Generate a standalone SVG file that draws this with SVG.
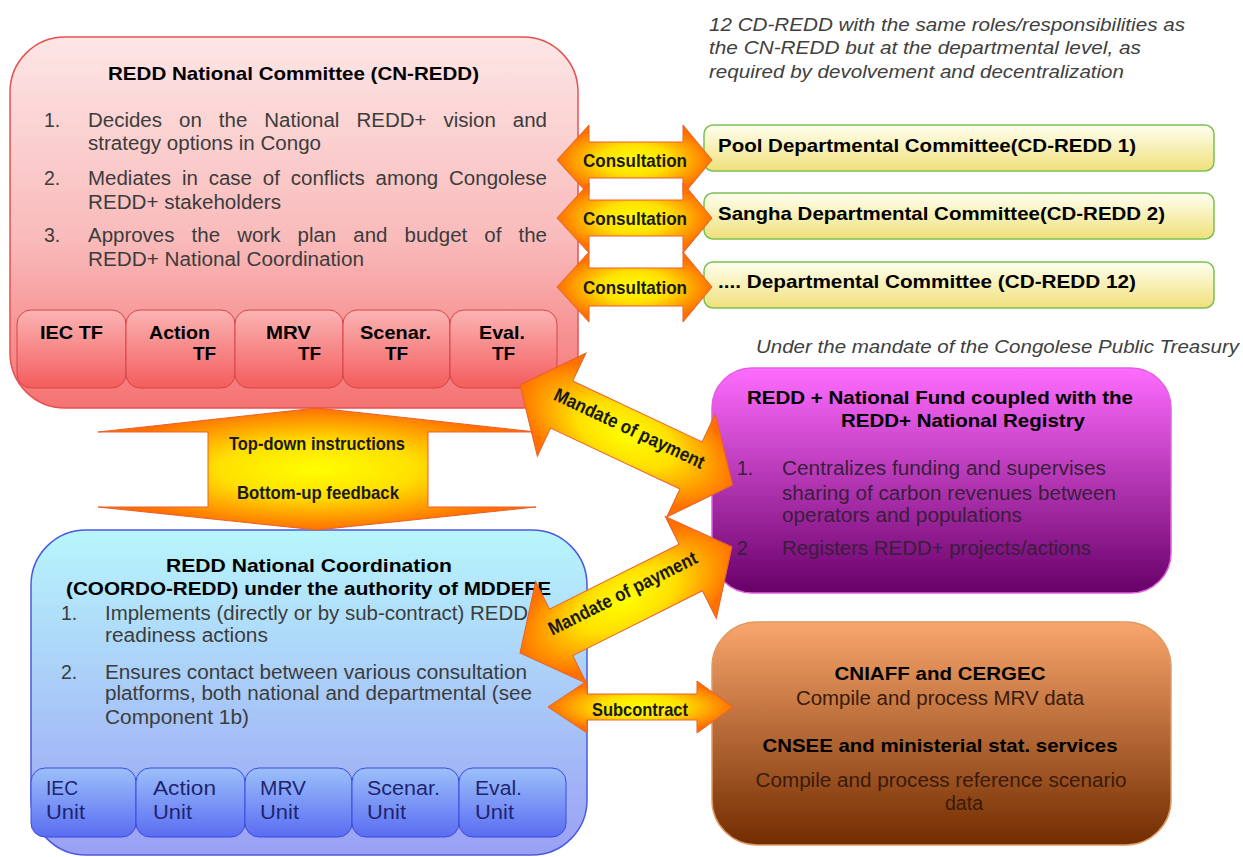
<svg xmlns="http://www.w3.org/2000/svg" width="1243" height="857" viewBox="0 0 1243 857">
<defs>
<linearGradient id="gRed" x1="0" y1="0" x2="0" y2="1"><stop offset="0" stop-color="#fde6e6"/><stop offset="0.55" stop-color="#f9baba"/><stop offset="1" stop-color="#f57272"/></linearGradient>
<linearGradient id="gTF" x1="0" y1="0" x2="0" y2="1"><stop offset="0" stop-color="#fbb4b4"/><stop offset="1" stop-color="#f45c5c"/></linearGradient>
<linearGradient id="gBlue" x1="0" y1="0" x2="0" y2="1"><stop offset="0" stop-color="#b8f6fc"/><stop offset="1" stop-color="#9aa0f4"/></linearGradient>
<linearGradient id="gUnit" x1="0" y1="0" x2="0" y2="1"><stop offset="0" stop-color="#9cc0fa"/><stop offset="1" stop-color="#5a6cf2"/></linearGradient>
<linearGradient id="gDept" x1="0" y1="0" x2="0" y2="1"><stop offset="0" stop-color="#fffff0"/><stop offset="1" stop-color="#efe07a"/></linearGradient>
<linearGradient id="gPurple" x1="0" y1="0" x2="0" y2="1"><stop offset="0" stop-color="#ff6cff"/><stop offset="1" stop-color="#680068"/></linearGradient>
<linearGradient id="gOrange" x1="0" y1="0" x2="0" y2="1"><stop offset="0" stop-color="#f9a66c"/><stop offset="1" stop-color="#722c00"/></linearGradient>
<radialGradient id="gArrow" cx="0.5" cy="0.5" r="0.5"><stop offset="0" stop-color="#ffff00"/><stop offset="0.45" stop-color="#ffe000"/><stop offset="1" stop-color="#ff7000"/></radialGradient>
<style>
text{font-family:"Liberation Sans",Arial,sans-serif;}
.t{font-size:19.5px;fill:#3c3c3c;}
.b{font-size:19px;font-weight:bold;fill:#000;}
.it{font-size:17.5px;font-style:italic;fill:#404040;}
.unit{font-size:20.5px;fill:#1e2470;}
.al{font-family:"Liberation Sans Narrow","Liberation Sans",Arial,sans-serif;font-size:19px;font-weight:bold;fill:#1a1a1a;}
.arrow{fill:url(#gArrow);stroke:#e8602c;stroke-width:1;}
.pt{font-size:19.5px;fill:#3a1e3c;}
.ot{font-size:19.5px;fill:#3a1a0a;}
</style>
</defs>
<rect width="1243" height="857" fill="#ffffff"/>

<g id="cn-redd">
<rect x="10" y="37" width="568" height="371" rx="55" fill="url(#gRed)" stroke="#e85050" stroke-width="1.5"/>
<text class="b" x="108" y="80" textLength="371" lengthAdjust="spacingAndGlyphs">REDD National Committee (CN-REDD)</text>
<text class="t" x="44" y="127">1.</text>
<text class="t" x="88" y="127" word-spacing="10.8" textLength="459" lengthAdjust="spacingAndGlyphs">Decides on the National REDD+ vision and</text>
<text class="t" x="88" y="150" textLength="233" lengthAdjust="spacingAndGlyphs">strategy options in Congo</text>
<text class="t" x="44" y="185">2.</text>
<text class="t" x="88" y="185" word-spacing="4.9" textLength="459" lengthAdjust="spacingAndGlyphs">Mediates in case of conflicts among Congolese</text>
<text class="t" x="88" y="209" textLength="193" lengthAdjust="spacingAndGlyphs">REDD+ stakeholders</text>
<text class="t" x="44" y="242">3.</text>
<text class="t" x="88" y="242" word-spacing="10.9" textLength="459" lengthAdjust="spacingAndGlyphs">Approves the work plan and budget of the</text>
<text class="t" x="88" y="266" textLength="276" lengthAdjust="spacingAndGlyphs">REDD+ National Coordination</text>
<g id="tf-iec"><rect x="17" y="310" width="109" height="78" rx="14" fill="url(#gTF)" stroke="#d84444"/><text class="b" x="40" y="339" textLength="63" lengthAdjust="spacingAndGlyphs">IEC TF</text></g>
<g id="tf-action"><rect x="126" y="310" width="109" height="78" rx="14" fill="url(#gTF)" stroke="#d84444"/><text class="b" x="149" y="339" textLength="61" lengthAdjust="spacingAndGlyphs">Action</text><text class="b" x="193" y="360">TF</text></g>
<g id="tf-mrv"><rect x="235" y="310" width="108" height="78" rx="14" fill="url(#gTF)" stroke="#d84444"/><text class="b" x="266" y="339" textLength="45" lengthAdjust="spacingAndGlyphs">MRV</text><text class="b" x="298" y="360">TF</text></g>
<g id="tf-scenar"><rect x="343" y="310" width="107" height="78" rx="14" fill="url(#gTF)" stroke="#d84444"/><text class="b" x="360" y="339" textLength="71" lengthAdjust="spacingAndGlyphs">Scenar.</text><text class="b" x="385" y="360">TF</text></g>
<g id="tf-eval"><rect x="450" y="310" width="107" height="78" rx="14" fill="url(#gTF)" stroke="#d84444"/><text class="b" x="479" y="339" textLength="46" lengthAdjust="spacingAndGlyphs">Eval.</text><text class="b" x="492" y="360">TF</text></g>
</g>

<g id="cd-note">
<text class="it" x="709" y="31" textLength="476" lengthAdjust="spacingAndGlyphs">12 CD-REDD with the same roles/responsibilities as</text>
<text class="it" x="709" y="54" textLength="432" lengthAdjust="spacingAndGlyphs">the CN-REDD but at the departmental level,  as</text>
<text class="it" x="709" y="78" textLength="415" lengthAdjust="spacingAndGlyphs">required by devolvement and decentralization</text>
</g>

<g id="cd-redd-1">
<rect x="704" y="125" width="510" height="46" rx="9" fill="url(#gDept)" stroke="#7cc050" stroke-width="1.5"/>
<text class="b" x="718" y="152" textLength="418" lengthAdjust="spacingAndGlyphs">Pool Departmental Committee(CD-REDD 1)</text>
</g>
<g id="cd-redd-2">
<rect x="704" y="193" width="510" height="46" rx="9" fill="url(#gDept)" stroke="#7cc050" stroke-width="1.5"/>
<text class="b" x="718" y="220" textLength="447" lengthAdjust="spacingAndGlyphs">Sangha Departmental Committee(CD-REDD 2)</text>
</g>
<g id="cd-redd-12">
<rect x="704" y="262" width="510" height="46" rx="9" fill="url(#gDept)" stroke="#7cc050" stroke-width="1.5"/>
<text class="b" x="718" y="288" textLength="418" lengthAdjust="spacingAndGlyphs">.... Departmental Committee (CD-REDD 12)</text>
</g>

<g id="treasury-note">
<text class="it" x="756" y="353" textLength="483" lengthAdjust="spacingAndGlyphs">Under the mandate of the Congolese Public Treasury</text>
</g>

<g id="national-fund">
<rect x="712" y="368" width="459" height="225" rx="40" fill="url(#gPurple)" stroke="#e060e0" stroke-width="1.5"/>
<text class="b" x="747" y="404" textLength="386" lengthAdjust="spacingAndGlyphs">REDD + National Fund coupled with the</text>
<text class="b" x="841" y="427" textLength="244" lengthAdjust="spacingAndGlyphs">REDD+ National Registry</text>
<text class="pt" x="737" y="475">1.</text>
<text class="pt" x="782" y="475" textLength="324" lengthAdjust="spacingAndGlyphs">Centralizes funding and supervises</text>
<text class="pt" x="782" y="500" textLength="334" lengthAdjust="spacingAndGlyphs">sharing of carbon revenues between</text>
<text class="pt" x="782" y="522" textLength="240" lengthAdjust="spacingAndGlyphs">operators and populations</text>
<text class="pt" x="737" y="555">2</text>
<text class="pt" x="782" y="555" textLength="309" lengthAdjust="spacingAndGlyphs">Registers REDD+ projects/actions</text>
</g>

<g id="coordo-redd">
<rect x="31" y="530" width="556" height="325" rx="55" fill="url(#gBlue)" stroke="#4a5ae0" stroke-width="1.5"/>
<text class="b" x="166" y="572" textLength="286" lengthAdjust="spacingAndGlyphs">REDD National Coordination</text>
<text class="b" x="66" y="595" textLength="485" lengthAdjust="spacingAndGlyphs">(COORDO-REDD) under the authority of MDDEFE</text>
<text class="t" x="61" y="620">1.</text>
<text class="t" x="105" y="620" textLength="423" lengthAdjust="spacingAndGlyphs">Implements (directly or by sub-contract) REDD</text>
<text class="t" x="105" y="642" textLength="163" lengthAdjust="spacingAndGlyphs">readiness actions</text>
<text class="t" x="61" y="679">2.</text>
<text class="t" x="105" y="679" textLength="422" lengthAdjust="spacingAndGlyphs">Ensures contact between various consultation</text>
<text class="t" x="105" y="700" textLength="427" lengthAdjust="spacingAndGlyphs">platforms, both national and departmental (see</text>
<text class="t" x="105" y="724" textLength="144" lengthAdjust="spacingAndGlyphs">Component 1b)</text>
<g id="unit-iec"><rect x="31" y="768" width="105" height="69" rx="14" fill="url(#gUnit)" stroke="#3a4ae0"/><text class="unit" x="46" y="795" textLength="32" lengthAdjust="spacingAndGlyphs">IEC</text><text class="unit" x="46" y="819" textLength="39" lengthAdjust="spacingAndGlyphs">Unit</text></g>
<g id="unit-action"><rect x="136" y="768" width="109" height="69" rx="14" fill="url(#gUnit)" stroke="#3a4ae0"/><text class="unit" x="153" y="795" textLength="63" lengthAdjust="spacingAndGlyphs">Action</text><text class="unit" x="153" y="819" textLength="39" lengthAdjust="spacingAndGlyphs">Unit</text></g>
<g id="unit-mrv"><rect x="245" y="768" width="107" height="69" rx="14" fill="url(#gUnit)" stroke="#3a4ae0"/><text class="unit" x="260" y="795" textLength="46" lengthAdjust="spacingAndGlyphs">MRV</text><text class="unit" x="260" y="819" textLength="39" lengthAdjust="spacingAndGlyphs">Unit</text></g>
<g id="unit-scenar"><rect x="352" y="768" width="107" height="69" rx="14" fill="url(#gUnit)" stroke="#3a4ae0"/><text class="unit" x="367" y="795" textLength="73" lengthAdjust="spacingAndGlyphs">Scenar.</text><text class="unit" x="367" y="819" textLength="39" lengthAdjust="spacingAndGlyphs">Unit</text></g>
<g id="unit-eval"><rect x="459" y="768" width="107" height="69" rx="14" fill="url(#gUnit)" stroke="#3a4ae0"/><text class="unit" x="475" y="795" textLength="47" lengthAdjust="spacingAndGlyphs">Eval.</text><text class="unit" x="475" y="819" textLength="39" lengthAdjust="spacingAndGlyphs">Unit</text></g>
</g>

<g id="cniaff">
<rect x="712" y="622" width="459" height="223" rx="45" fill="url(#gOrange)" stroke="#e09a64" stroke-width="1.5"/>
<text class="b" x="940" y="680" text-anchor="middle" textLength="211" lengthAdjust="spacingAndGlyphs">CNIAFF and CERGEC</text>
<text class="ot" x="940" y="705" text-anchor="middle" textLength="288" lengthAdjust="spacingAndGlyphs">Compile and process MRV data</text>
<text class="b" x="940" y="752" text-anchor="middle" textLength="355" lengthAdjust="spacingAndGlyphs">CNSEE and ministerial  stat. services</text>
<text class="ot" x="941" y="787" text-anchor="middle" textLength="371" lengthAdjust="spacingAndGlyphs">Compile and process reference scenario</text>
<text class="ot" x="964" y="810" text-anchor="middle" textLength="38" lengthAdjust="spacingAndGlyphs">data</text>
</g>

<g id="connectors">
<g id="consult-1"><path class="arrow" d="M557,160 L589,125 L589,142 L683,142 L683,125 L712,160 L683,195 L683,178 L589,178 L589,195 Z"/><text class="al" x="635" y="167" text-anchor="middle" textLength="104" lengthAdjust="spacingAndGlyphs">Consultation</text></g>
<g id="consult-2"><path class="arrow" d="M557,218 L589,183 L589,200 L683,200 L683,183 L712,218 L683,253 L683,236 L589,236 L589,253 Z"/><text class="al" x="635" y="225" text-anchor="middle" textLength="104" lengthAdjust="spacingAndGlyphs">Consultation</text></g>
<g id="consult-3"><path class="arrow" d="M557,287 L589,252 L589,268 L683,268 L683,252 L712,287 L683,322 L683,306 L589,306 L589,322 Z"/><text class="al" x="635" y="294" text-anchor="middle" textLength="104" lengthAdjust="spacingAndGlyphs">Consultation</text></g>
<g id="topdown"><path class="arrow" d="M317,408 L536,432 L428,432 L428,507 L536,507 L317,530 L98,507 L208,507 L208,432 L98,432 Z"/><text class="al" x="317" y="450" text-anchor="middle" textLength="176" lengthAdjust="spacingAndGlyphs">Top-down instructions</text><text class="al" x="318" y="499" text-anchor="middle" textLength="162" lengthAdjust="spacingAndGlyphs">Bottom-up feedback</text></g>
<g id="mandate-1" transform="translate(520,385) rotate(25.2)"><path class="arrow" d="M0,0 L46,-57 L46,-26 L189,-26 L189,-57 L235,0 L189,57 L189,26 L46,26 L46,57 Z"/><text class="al" x="117.5" y="-1" text-anchor="middle" textLength="164" lengthAdjust="spacingAndGlyphs">Mandate of payment</text></g>
<g id="mandate-2" transform="translate(520,653) rotate(-26.6)"><path class="arrow" d="M0,0 L46,-57 L46,-26 L191,-26 L191,-57 L237,0 L191,57 L191,26 L46,26 L46,57 Z"/><text class="al" x="118.5" y="-1" text-anchor="middle" textLength="164" lengthAdjust="spacingAndGlyphs">Mandate of payment</text></g>
<g id="subcontract"><path class="arrow" d="M548,707 L587,681 L587,694 L697,694 L697,681 L733,707 L697,733 L697,720 L587,720 L587,733 Z"/><text class="al" x="640" y="716" text-anchor="middle" textLength="96" lengthAdjust="spacingAndGlyphs">Subcontract</text></g>
</g>
</svg>
